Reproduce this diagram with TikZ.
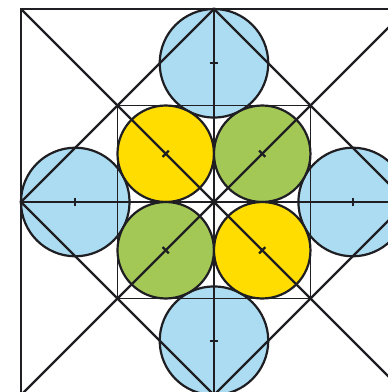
\documentclass[tikz,border=0pt]{standalone}
\usepackage{tikz}
\usetikzlibrary{calc}
\definecolor{skyblue}{RGB}{172,220,242}
\definecolor{sunyellow}{RGB}{255,221,0}
\definecolor{leafgreen}{RGB}{164,200,86}
\definecolor{inkgray}{RGB}{30,30,35}

\begin{document}
\begin{tikzpicture}[
  line/.style={draw=inkgray, line width=1.3pt},
  thinline/.style={draw=inkgray, line width=1.1pt},
  disc/.style={draw=inkgray, line width=1.3pt},
  tick/.style={draw=inkgray, line width=1.3pt}
]
\useasboundingbox (-4.435,-3.938) rectangle (3.606,4.187);

% outer corners and diamond tips
\coordinate (nw) at (-4,4);
\coordinate (ne) at (4,4);
\coordinate (se) at (4,-4);
\coordinate (sw) at (-4,-4);
\coordinate (top) at (0,4);
\coordinate (rgt) at (4,0);
\coordinate (bot) at (0,-4);
\coordinate (lft) at (-4,0);

% circles
\foreach \p/\c in {{(0,2.875)}/skyblue,{(2.875,0)}/skyblue,{(0,-2.875)}/skyblue,{(-2.875,0)}/skyblue}
  \path[disc,fill=\c] \p circle (1.125);
\path[disc,fill=sunyellow] (-1,1) circle (1);
\path[disc,fill=leafgreen] (1,1) circle (1);
\path[disc,fill=leafgreen] (-1,-1) circle (1);
\path[disc,fill=sunyellow] (1,-1) circle (1);

% squares, diamond and cross lines
\draw[line] (nw) rectangle (se);
\draw[thinline] (-2,2) rectangle (2,-2);
\draw[line] (top) -- (rgt) -- (bot) -- (lft) -- cycle;
\draw[line] (nw) -- (se);
\draw[line] (ne) -- (sw);
\draw[line] (top) -- (bot);
\draw[line] (lft) -- (rgt);

% centre marks
\foreach \y in {2.875,-2.875}
  \draw[tick] (-0.09,\y) -- (0.09,\y);
\foreach \x in {2.875,-2.875}
  \draw[tick] (\x,-0.09) -- (\x,0.09);
\foreach \x/\y/\s in {-1/1/1,1/-1/1,1/1/-1,-1/-1/-1}
  \draw[tick] ($(\x,\y)+(0.065,\s*0.065)$) -- ($(\x,\y)-(0.065,\s*0.065)$);
\end{tikzpicture}
\end{document}
